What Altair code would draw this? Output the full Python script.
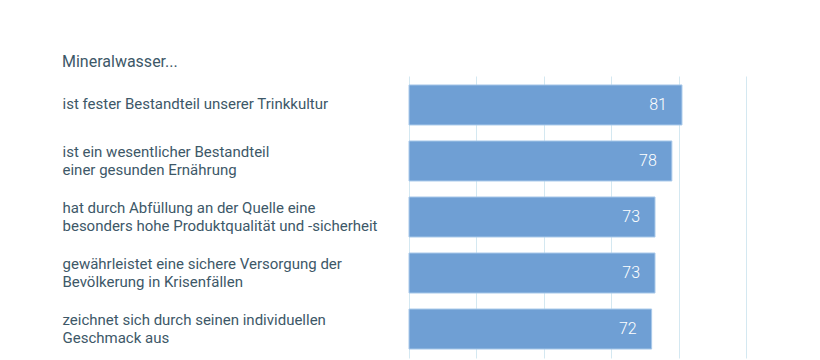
import altair as alt
import pandas as pd

categories = [
    "ist fester Bestandteil unserer Trinkkultur",
    "ist ein wesentlicher Bestandteil\neiner gesunden Ernährung",
    "hat durch Abfüllung an der Quelle eine\nbesonders hohe Produktqualität und -sicherheit",
    "gewährleistet eine sichere Versorgung der\nBevölkerung in Krisenfällen",
    "zeichnet sich durch seinen individuellen\nGeschmack aus",
]
values = [81, 78, 73, 73, 72]
title_text = "Mineralwasser..."

df = pd.DataFrame({"cat": categories, "val": values})

FONT = "Roboto"
TEXT_COLOR = "#3d5868"
BAR_COLOR = "#6f9fd4"
GRID_COLOR = "#d4e8f1"

y_enc = alt.Y(
    "cat:N",
    sort=categories,
    title=None,
    scale=alt.Scale(paddingInner=0.2857, paddingOuter=0.16),
    axis=alt.Axis(
        labelAlign="left",
        labelPadding=347,
        labelLimit=345,
        labelExpr="split(datum.label, '\\n')",
        labelLineHeight=18,
        labelOffset={"condition": {"test": "indexof(datum.value, '\\n') >= 0", "value": -9}, "value": -1},
        labelFontSize=15,
        labelFont=FONT,
        labelColor=TEXT_COLOR,
        ticks=False,
        domain=False,
        grid=False,
    ),
)

x_enc = alt.X(
    "val:Q",
    title=None,
    scale=alt.Scale(domain=[0, 100]),
    axis=alt.Axis(
        values=[0, 20, 40, 60, 80, 100],
        labels=False,
        ticks=False,
        domain=False,
        grid=True,
        gridColor=GRID_COLOR,
        gridWidth=1,
    ),
)

bars = alt.Chart(df).mark_bar(
    color=BAR_COLOR, stroke="#a9c9ea", strokeWidth=1
).encode(x=x_enc, y=y_enc)

labels = alt.Chart(df).mark_text(
    align="right", baseline="middle", dx=-15, color="white",
    fontSize=16, font=FONT, fontWeight=300
).encode(x="val:Q", y=alt.Y("cat:N", sort=categories), text="val:Q")

chart = (
    (bars + labels)
    .properties(
        width=337,
        height=282,
        padding={"left": 54, "top": 46, "right": 10, "bottom": 5},
        title=alt.TitleParams(
            title_text,
            anchor="start",
            frame="bounds",
            font=FONT,
            fontSize=16,
            fontWeight="normal",
            color=TEXT_COLOR,
            offset=6,
        ),
    )
    .configure_view(stroke=None)
)

chart.save("out.html", embed_options={"renderer": "svg", "actions": False})
